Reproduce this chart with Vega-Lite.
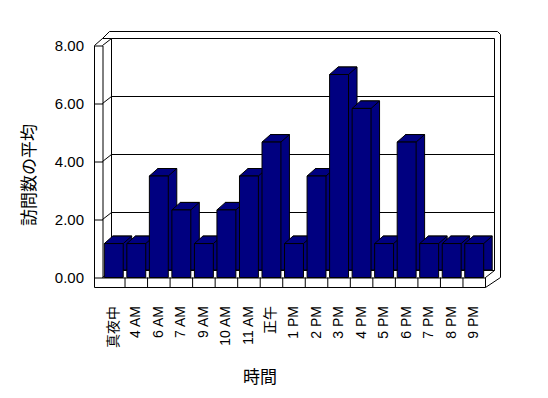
{
  "$schema": "https://vega.github.io/schema/vega-lite/v6.json",
  "width": 383,
  "height": 232,
  "autosize": {"type": "none"},
  "padding": {"left": 102.5, "top": 45.5, "right": 62.5, "bottom": 120.5},
  "background": "white",
  "config": {"view": {"stroke": null}, "font": "Liberation Sans"},
  "datasets": {
    "visits": [
      {"hour": "真夜中", "avg": 1.17},
      {"hour": "4 AM", "avg": 1.17},
      {"hour": "6 AM", "avg": 3.5},
      {"hour": "7 AM", "avg": 2.33},
      {"hour": "9 AM", "avg": 1.17},
      {"hour": "10 AM", "avg": 2.33},
      {"hour": "11 AM", "avg": 3.5},
      {"hour": "正午", "avg": 4.67},
      {"hour": "1 PM", "avg": 1.17},
      {"hour": "2 PM", "avg": 3.5},
      {"hour": "3 PM", "avg": 7.0},
      {"hour": "4 PM", "avg": 5.83},
      {"hour": "5 PM", "avg": 1.17},
      {"hour": "6 PM", "avg": 4.67},
      {"hour": "7 PM", "avg": 1.17},
      {"hour": "8 PM", "avg": 1.17},
      {"hour": "9 PM", "avg": 1.17}
    ],
    "levels": [{"v": 0}, {"v": 2}, {"v": 4}, {"v": 6}, {"v": 8}],
    "corners": [{"x": 0, "v": 0}, {"x": 0, "v": 2}, {"x": 0, "v": 4}, {"x": 0, "v": 6}, {"x": 0, "v": 8}, {"x": 17, "v": 0}],
    "walls": [{"x": 0}, {"x": 17}],
    "left": [{"x": 0}],
    "right": [{"x": 17}],
    "dividers": [{"x": 1}, {"x": 2}, {"x": 3}, {"x": 4}, {"x": 5}, {"x": 6}, {"x": 7}, {"x": 8}, {"x": 9}, {"x": 10}, {"x": 11}, {"x": 12}, {"x": 13}, {"x": 14}, {"x": 15}, {"x": 16}, {"x": 17}]
  },
  "resolve": {"scale": {"x": "independent"}},
  "layer": [
    {
      "layer": [
        {
          "data": {"name": "levels"},
          "mark": {"type": "rule", "stroke": "black", "strokeWidth": 1, "xOffset": 9, "x2Offset": 9, "yOffset": -7},
          "encoding": {
            "x": {"datum": 0, "type": "quantitative", "scale": {"domain": [0, 17]}, "axis": null},
            "x2": {"datum": 17},
            "y": {
              "field": "v", "type": "quantitative", "scale": {"domain": [0, 8], "nice": false},
              "axis": {
                "title": "訪問数の平均", "titleFont": "Noto Sans CJK JP", "titleFontSize": 17, "titleFontWeight": "normal", "titleColor": "black",
                "titleX": -73, "titleY": 129, "titleAngle": 270, "titleAlign": "center", "titleBaseline": "middle",
                "values": [0, 2, 4, 6, 8], "format": ".2f", "labelFont": "Liberation Sans", "labelFontSize": 15, "labelColor": "black",
                "labelPadding": 11, "ticks": true, "tickSize": 8, "tickColor": "black", "tickWidth": 1, "domainColor": "black", "grid": false, "labelOverlap": false
              }
            }
          }
        },
        {
          "data": {"name": "corners"},
          "mark": {"type": "rule", "stroke": "black", "strokeWidth": 1, "x2Offset": 9, "y2Offset": -7},
          "encoding": {
            "x": {"field": "x", "type": "quantitative", "scale": {"domain": [0, 17]}},
            "x2": {"field": "x"},
            "y": {"field": "v", "type": "quantitative"},
            "y2": {"field": "v"}
          }
        },
        {
          "data": {"name": "walls"},
          "mark": {"type": "rule", "stroke": "black", "strokeWidth": 1, "xOffset": 9, "yOffset": -7, "y2Offset": -7},
          "encoding": {
            "x": {"field": "x", "type": "quantitative", "scale": {"domain": [0, 17]}},
            "y": {"datum": 0, "type": "quantitative"},
            "y2": {"datum": 8}
          }
        },
        {
          "data": {"name": "left"},
          "mark": {"type": "rule", "stroke": "black", "strokeWidth": 1, "xOffset": -8, "y2Offset": 10},
          "encoding": {
            "x": {"field": "x", "type": "quantitative", "scale": {"domain": [0, 17]}},
            "y": {"datum": 8, "type": "quantitative"},
            "y2": {"datum": 0}
          }
        },
        {
          "data": {"name": "left"},
          "mark": {"type": "rule", "stroke": "black", "strokeWidth": 1, "xOffset": -8, "y2Offset": -7},
          "encoding": {
            "x": {"field": "x", "type": "quantitative", "scale": {"domain": [0, 17]}},
            "x2": {"field": "x"},
            "y": {"datum": 8, "type": "quantitative"},
            "y2": {"datum": 8}
          }
        },
        {
          "data": {"name": "left"},
          "mark": {"type": "rule", "stroke": "black", "strokeWidth": 1, "x2Offset": 9, "yOffset": -7, "y2Offset": -7},
          "encoding": {
            "x": {"field": "x", "type": "quantitative", "scale": {"domain": [0, 17]}},
            "x2": {"field": "x"},
            "y": {"datum": 8, "type": "quantitative"},
            "y2": {"datum": 8}
          }
        },
        {
          "data": {"name": "left"},
          "mark": {"type": "rule", "stroke": "black", "strokeWidth": 1, "x2Offset": 7, "yOffset": -7, "y2Offset": -14},
          "encoding": {
            "x": {"field": "x", "type": "quantitative", "scale": {"domain": [0, 17]}},
            "x2": {"field": "x"},
            "y": {"datum": 8, "type": "quantitative"},
            "y2": {"datum": 8}
          }
        },
        {
          "data": {"name": "left"},
          "mark": {"type": "rule", "stroke": "black", "strokeWidth": 1, "xOffset": 7, "x2Offset": 12, "yOffset": -14},
          "encoding": {
            "x": {"field": "x", "type": "quantitative", "scale": {"domain": [0, 17]}},
            "x2": {"datum": 17},
            "y": {"datum": 8, "type": "quantitative"}
          }
        },
        {
          "data": {"name": "right"},
          "mark": {"type": "rule", "stroke": "black", "strokeWidth": 1, "xOffset": 12, "x2Offset": 15, "yOffset": -14, "y2Offset": -11},
          "encoding": {
            "x": {"field": "x", "type": "quantitative", "scale": {"domain": [0, 17]}},
            "x2": {"field": "x"},
            "y": {"datum": 8, "type": "quantitative"},
            "y2": {"datum": 8}
          }
        },
        {
          "data": {"name": "right"},
          "mark": {"type": "rule", "stroke": "black", "strokeWidth": 1, "xOffset": 15, "yOffset": -11},
          "encoding": {
            "x": {"field": "x", "type": "quantitative", "scale": {"domain": [0, 17]}},
            "y": {"datum": 8, "type": "quantitative"},
            "y2": {"datum": 0}
          }
        },
        {
          "data": {"name": "left"},
          "mark": {"type": "rule", "stroke": "black", "strokeWidth": 1, "xOffset": -8, "yOffset": 10},
          "encoding": {
            "x": {"field": "x", "type": "quantitative", "scale": {"domain": [0, 17]}},
            "x2": {"datum": 17},
            "y": {"datum": 0, "type": "quantitative"}
          }
        },
        {
          "data": {"name": "right"},
          "mark": {"type": "rule", "stroke": "black", "strokeWidth": 1, "x2Offset": 15, "yOffset": 10},
          "encoding": {
            "x": {"field": "x", "type": "quantitative", "scale": {"domain": [0, 17]}},
            "x2": {"field": "x"},
            "y": {"datum": 0, "type": "quantitative"},
            "y2": {"datum": 0}
          }
        },
        {
          "data": {"name": "dividers"},
          "mark": {"type": "rule", "stroke": "black", "strokeWidth": 1, "y2Offset": 10},
          "encoding": {
            "x": {"field": "x", "type": "quantitative", "scale": {"domain": [0, 17]}},
            "y": {"datum": 0, "type": "quantitative"},
            "y2": {"datum": 0}
          }
        }
      ]
    },
    {
      "data": {"name": "visits"},
      "layer": [
        {
          "mark": {"type": "bar", "fill": "#000080", "stroke": "black", "strokeWidth": 1, "xOffset": 8.5, "yOffset": -7.5, "y2Offset": -7.5},
          "encoding": {
            "x": {
              "field": "hour", "type": "nominal", "sort": null,
              "scale": {"paddingInner": 0.16, "paddingOuter": 0.08},
              "axis": {
                "orient": "bottom",
                "title": "時間", "titleFont": "Noto Sans CJK JP", "titleFontSize": 17, "titleFontWeight": "normal", "titleColor": "black",
                "titleX": 157, "titleY": 100, "titleAlign": "center", "titleBaseline": "middle",
                "labelAngle": 270, "labelFont": "Liberation Sans, Noto Sans CJK JP", "labelFontSize": 14, "labelColor": "black",
                "labelPadding": 28, "labelOverlap": false, "ticks": false, "domain": true, "domainColor": "black", "grid": false
              }
            },
            "y": {"field": "avg", "type": "quantitative"}
          }
        },
        {
          "mark": {"type": "point", "filled": true, "shape": "M-9.46,0L9.46,0L17.96,-7.5L-0.96,-7.5Z", "size": 4, "fill": "#000080", "stroke": "black", "strokeWidth": 1, "opacity": 1},
          "encoding": {
            "x": {"field": "hour", "type": "nominal", "sort": null},
            "y": {"field": "avg", "type": "quantitative"}
          }
        },
        {
          "mark": {"type": "bar", "fill": "#000080", "stroke": "black", "strokeWidth": 1},
          "encoding": {
            "x": {"field": "hour", "type": "nominal", "sort": null},
            "y": {"field": "avg", "type": "quantitative"}
          }
        }
      ]
    }
  ]
}
